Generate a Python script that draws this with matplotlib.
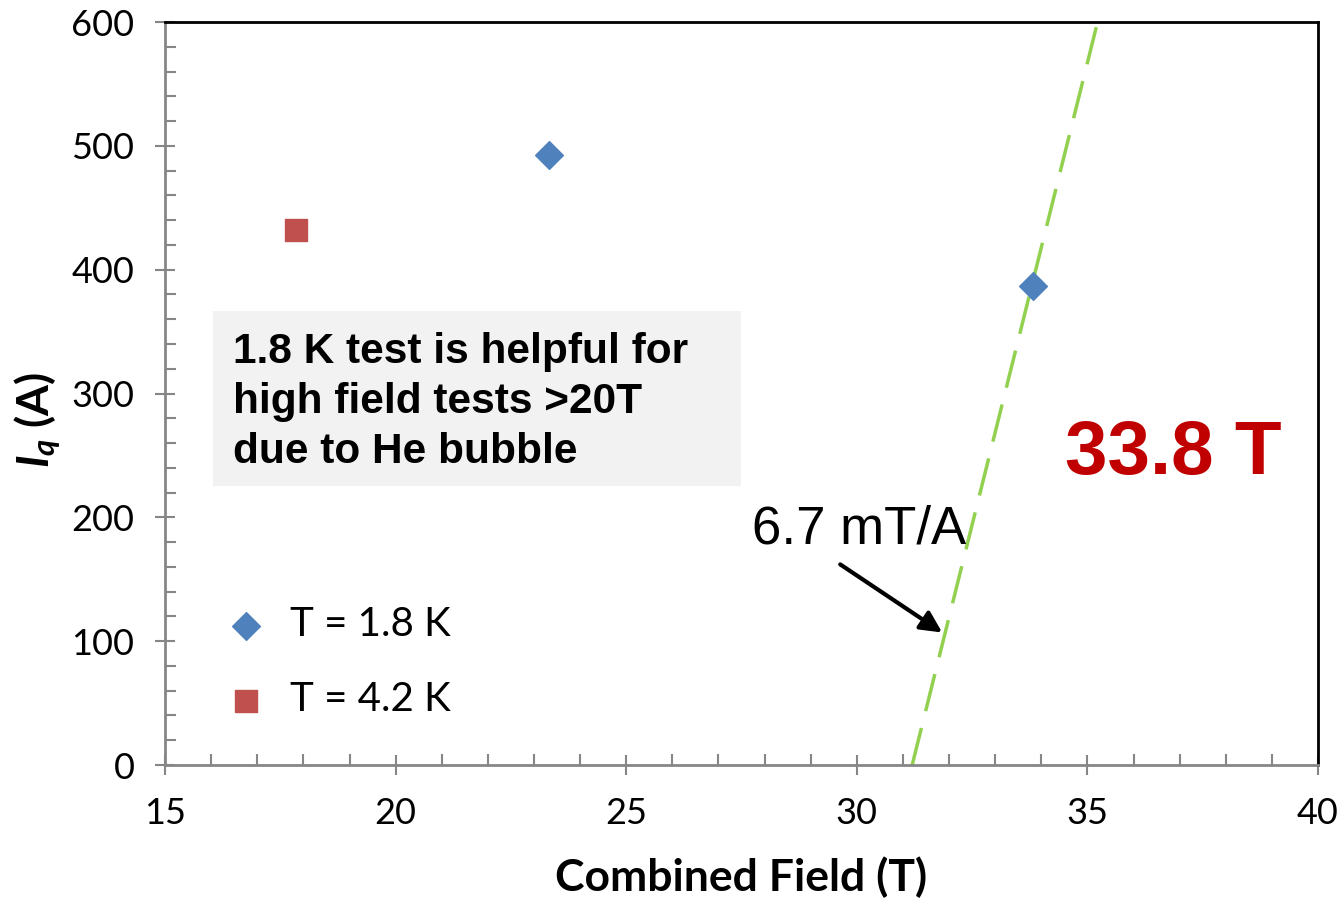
import numpy as np
import matplotlib
matplotlib.use('Agg')
import matplotlib.pyplot as plt
from matplotlib.patches import Rectangle

# datos
campo_18 = [23.32, 33.83]
iq_18 = [493, 387]
campo_42 = [17.83]
iq_42 = [432]

# recta de 6.7 mT/A
recta_campo = [31.2, 35.22]
recta_iq = [0, 600]

plt.rcParams['mathtext.fontset'] = 'custom'
plt.rcParams['mathtext.it'] = 'Lato:bold:italic'
plt.rcParams['mathtext.rm'] = 'Lato:bold'

fig = plt.figure(figsize=(13.43, 8.98), dpi=100)
ax = fig.add_axes([0.1229, 0.1481, 0.8585, 0.8274])

ax.plot(recta_campo, recta_iq, color='#92D050', lw=2.5, dashes=(11, 5))
ax.scatter(campo_18, iq_18, marker='D', s=200, color='#4F81BD', zorder=3, label='T = 1.8 K')
ax.scatter(campo_42, iq_42, marker='s', s=230, color='#C0504D', zorder=3, label='T = 4.2 K')

ax.set_xlim(15, 40)
ax.set_ylim(0, 600)
ax.set_xticks(np.arange(15, 41, 5))
ax.set_yticks(np.arange(0, 601, 100))
ax.set_xticks(np.arange(15, 41, 1), minor=True)
ax.set_yticks(np.arange(0, 601, 20), minor=True)
ax.tick_params(which='major', direction='inout', length=14, width=1.5, color='#868686',
               labelsize=26, pad=15)
ax.tick_params(axis='x', which='major', pad=16)
ax.tick_params(which='minor', direction='in', length=8, width=1.5, color='#868686')
for lab in ax.get_xticklabels() + ax.get_yticklabels():
    lab.set_family('Lato')

ax.spines['left'].set_color('#868686')
ax.spines['bottom'].set_color('#868686')
for s in ax.spines.values():
    s.set_linewidth(2)

ax.set_xlabel('Combined Field (T)', fontsize=32, fontweight='bold', family='Lato', labelpad=19)
ax.set_ylabel('$I_q$ (A)', fontsize=32, fontweight='bold', family='Lato')
ax.yaxis.set_label_coords(-0.0885, 0.464)

# caja de texto
ax.add_patch(Rectangle((0.0416, 0.3755), 0.458, 0.2355, transform=ax.transAxes,
                       fc='#F2F2F2', ec='none', zorder=1))
ax.text(0.059, 0.489, '1.8 K test is helpful for\nhigh field tests >20T\ndue to He bubble',
        transform=ax.transAxes, fontsize=30.5, fontweight='bold', family='Liberation Sans',
        va='center', ha='left', linespacing=1.32, zorder=2)

ax.text(0.7806, 0.392, '33.8 T', transform=ax.transAxes, fontsize=55, fontweight='bold',
        color='#C00000', family='Liberation Sans', va='baseline')

ax.text(27.73, 190, '6.7 mT/A', fontsize=38, family='Liberation Sans', va='center', ha='left')
ax.annotate('', xy=(31.85, 107), xytext=(29.64, 162),
            arrowprops=dict(arrowstyle='-|>', color='black', lw=3, mutation_scale=32,
                            shrinkA=0, shrinkB=0))

leg = ax.legend(loc='lower left', bbox_to_anchor=(0.004, 0.014), frameon=False,
                prop={'family': 'Lato', 'size': 29}, labelspacing=0.95,
                handletextpad=0.08, scatterpoints=1)

plt.savefig('out.png', dpi=100)
